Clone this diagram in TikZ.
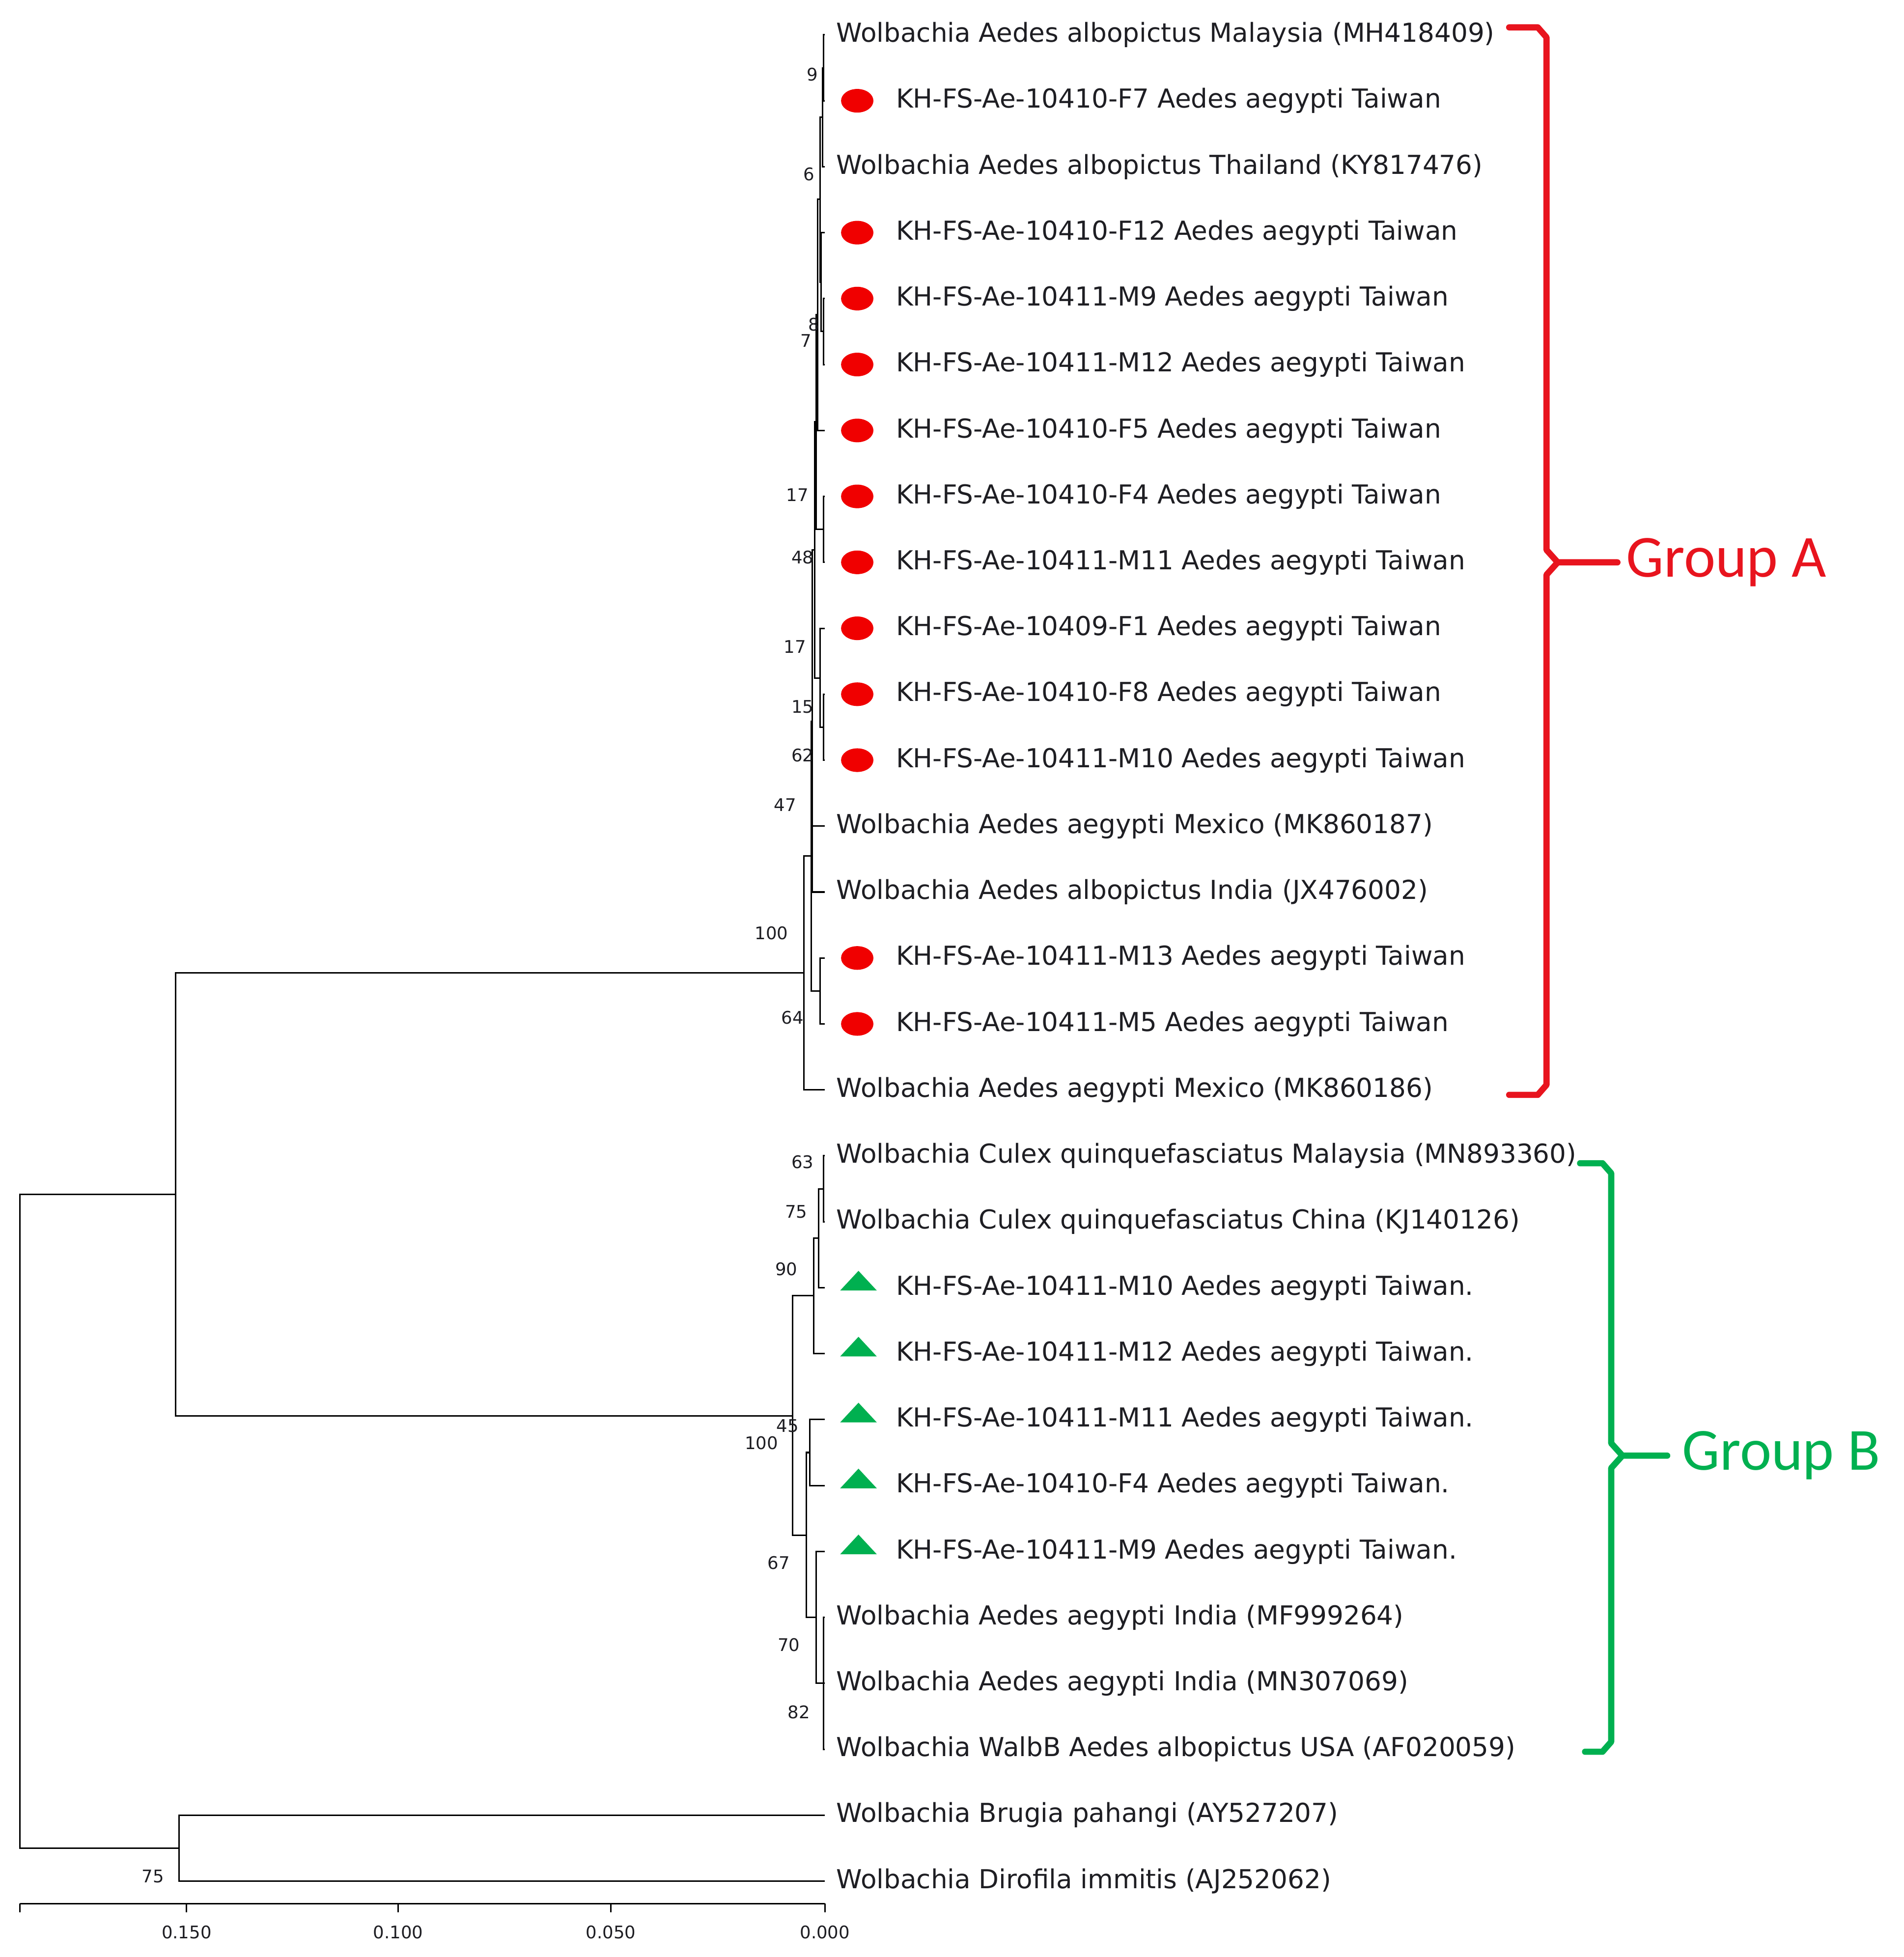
\documentclass[tikz,border=0pt]{standalone}
\usepackage{fontspec}
\usetikzlibrary{shapes.geometric}
\setmainfont{DejaVu Sans}
\newfontfamily\grpfont{Carlito}
\definecolor{grpred}{RGB}{232,20,30}
\definecolor{dotred}{RGB}{240,0,0}
\definecolor{grpgreen}{RGB}{0,176,80}
\definecolor{txt}{RGB}{30,30,35}
\begin{document}
\begin{tikzpicture}[x=1pt,y=-1pt,
  br/.style={line width=1.2pt,black},
  lab/.style={anchor=west,inner sep=0pt,font=\fontsize{21}{24}\selectfont,text=txt},
  bs/.style={inner sep=0pt,font=\fontsize{14}{16}\selectfont,text=txt},
  dot/.style={ellipse,fill=dotred,minimum width=26pt,minimum height=19pt,inner sep=0pt},
  tri/.style={regular polygon,regular polygon sides=3,fill=grpgreen,minimum size=34pt,inner sep=0pt,yscale=0.62},
  grp/.style={font=\grpfont\fontsize{48}{52}\selectfont,anchor=west,inner sep=0pt}]
\useasboundingbox (0,0) rectangle (1530,1573);
% leaves
\foreach \i in {0,...,28}{\coordinate (L\i) at (663,{28+53*\i});}
% leaf labels
\def\W#1#2{\node[lab] (t#1) at (672,{28+53*#1}) {#2};}
\def\K#1#2{\node[dot] (m#1) at (689,{28+53*#1}) {};\node[lab] (t#1) at (720,{28+53*#1}) {#2};}
\def\T#1#2{\node[tri] (m#1) at (690,{25+53*#1}) {};\node[lab] (t#1) at (720,{28+53*#1}) {#2};}
\W{0}{Wolbachia Aedes albopictus Malaysia (MH418409)}
\K{1}{KH-FS-Ae-10410-F7 Aedes aegypti Taiwan}
\W{2}{Wolbachia Aedes albopictus Thailand (KY817476)}
\K{3}{KH-FS-Ae-10410-F12 Aedes aegypti Taiwan}
\K{4}{KH-FS-Ae-10411-M9 Aedes aegypti Taiwan}
\K{5}{KH-FS-Ae-10411-M12 Aedes aegypti Taiwan}
\K{6}{KH-FS-Ae-10410-F5 Aedes aegypti Taiwan}
\K{7}{KH-FS-Ae-10410-F4 Aedes aegypti Taiwan}
\K{8}{KH-FS-Ae-10411-M11 Aedes aegypti Taiwan}
\K{9}{KH-FS-Ae-10409-F1 Aedes aegypti Taiwan}
\K{10}{KH-FS-Ae-10410-F8 Aedes aegypti Taiwan}
\K{11}{KH-FS-Ae-10411-M10 Aedes aegypti Taiwan}
\W{12}{Wolbachia Aedes aegypti Mexico (MK860187)}
\W{13}{Wolbachia Aedes albopictus India (JX476002)}
\K{14}{KH-FS-Ae-10411-M13 Aedes aegypti Taiwan}
\K{15}{KH-FS-Ae-10411-M5 Aedes aegypti Taiwan}
\W{16}{Wolbachia Aedes aegypti Mexico (MK860186)}
\W{17}{Wolbachia Culex quinquefasciatus Malaysia (MN893360)}
\W{18}{Wolbachia Culex quinquefasciatus China (KJ140126)}
\T{19}{KH-FS-Ae-10411-M10 Aedes aegypti Taiwan.}
\T{20}{KH-FS-Ae-10411-M12 Aedes aegypti Taiwan.}
\T{21}{KH-FS-Ae-10411-M11 Aedes aegypti Taiwan.}
\T{22}{KH-FS-Ae-10410-F4 Aedes aegypti Taiwan.}
\T{23}{KH-FS-Ae-10411-M9 Aedes aegypti Taiwan.}
\W{24}{Wolbachia Aedes aegypti India (MF999264)}
\W{25}{Wolbachia Aedes aegypti India (MN307069)}
\W{26}{Wolbachia WalbB Aedes albopictus USA (AF020059)}
\W{27}{Wolbachia Brugia pahangi (AY527207)}
\W{28}{Wolbachia Dirofila immitis (AJ252062)}
% internal nodes
\coordinate (A1) at (662,54.5); \coordinate (A2) at (661,94);
\coordinate (A3) at (662,266.5); \coordinate (A4) at (660,227);
\coordinate (A5) at (659,160); \coordinate (A7) at (657,253);
\coordinate (A6) at (662,425.5); \coordinate (A8) at (656,339);
\coordinate (A9) at (662,584.5); \coordinate (A10) at (659,545);
\coordinate (A11) at (655,442); \coordinate (A12) at (653,580);
\coordinate (A13) at (659,796.5); \coordinate (A14) at (652,688);
\coordinate (A15) at (646,782);
\coordinate (B1) at (662,955.5); \coordinate (B2) at (658,995);
\coordinate (B3) at (654,1041.5); \coordinate (B4) at (651,1167.5);
\coordinate (B5) at (662,1353); \coordinate (B6) at (656,1300);
\coordinate (B7) at (648,1234); \coordinate (B8) at (637,1138);
\coordinate (AB) at (141,960); \coordinate (C) at (144,1485.5);
\coordinate (R) at (16,1223);
\foreach \p/\c in {A1/L0,A1/L1,A2/A1,A2/L2,A3/L4,A3/L5,A4/L3,A4/A3,A5/A2,A5/A4,
  A7/A5,A7/L6,A6/L7,A6/L8,A8/A7,A8/A6,A9/L10,A9/L11,A10/L9,A10/A9,A11/A8,A11/A10,
  A12/A11,A12/L12,A12/L13,A13/L14,A13/L15,A14/A12,A14/A13,A15/A14,A15/L16,
  B1/L17,B1/L18,B2/B1,B2/L19,B3/B2,B3/L20,B4/L21,B4/L22,B5/L24,B5/L25,B5/L26,
  B6/L23,B6/B5,B7/B4,B7/B6,B8/B3,B8/B7,AB/A15,AB/B8,C/L27,C/L28,R/AB,R/C}
  {\draw[br] (\p) |- (\c);}
% bootstrap values
\foreach \v/\x/\y in {9/653/60,6/650/140,8/654/261,7/648/274,17/641/398,48/645/448,
  17/639/520,15/645/568,62/645/607,47/631/647,100/620/750,64/637/818,63/645/934,
  75/640/974,90/632/1020,45/633/1146,100/612/1160,67/626/1256,70/634/1322,82/642/1376,75/123/1508}
  {\node[bs] at (\x,\y) {\v};}
% scale axis
\coordinate (X0) at (16,1530); \coordinate (X1) at (663,1530);
\draw[br] (X0) -- (X1);
\foreach \x/\t in {16/,150/0.150,320/0.100,491/0.050,663/0.000}{
  \draw[br] (\x,1530) -- (\x,1537);
  \node[bs] at (\x,1553) {\t};}
% group A bracket
\draw[grpred,line width=5pt,line cap=round,line join=round]
  (1213,22) -- (1236,22) -- (1243,30) -- (1243,442) -- (1252,452) -- (1300,452)
  (1252,452) -- (1243,462) -- (1243,872) -- (1236,880) -- (1213,880);
\node[grp,text=grpred] (GA) at (1307,452) {Group A};
% group B bracket
\draw[grpgreen,line width=5pt,line cap=round,line join=round]
  (1270,935) -- (1288,935) -- (1295,943) -- (1295,1160) -- (1304,1170) -- (1340,1170)
  (1304,1170) -- (1295,1180) -- (1295,1400) -- (1288,1408) -- (1274,1408);
\node[grp,text=grpgreen] (GB) at (1352,1170) {Group B};
\end{tikzpicture}
\end{document}
